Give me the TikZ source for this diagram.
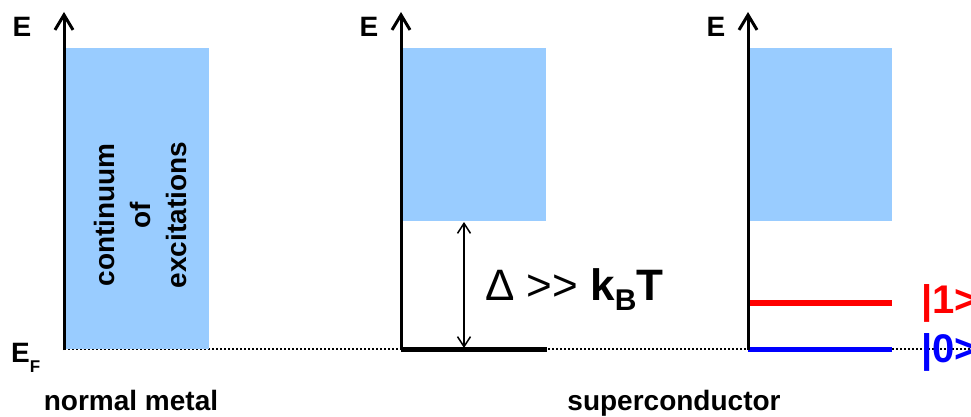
\documentclass[tikz,border=0pt]{standalone}
\usepackage{fontspec}
\setmainfont{Liberation Sans}
\usetikzlibrary{arrows.meta,positioning}
\definecolor{bandblue}{RGB}{153,204,255}

\begin{document}
\begin{tikzpicture}[
  x=1pt,y=-1pt,
  font=\bfseries\fontsize{28}{34}\selectfont,
  axis/.style={line width=3pt,-{Straight Barb[length=15pt,width=18pt]}},
  band/.style={fill=bandblue,draw=none,inner sep=0pt,anchor=north west,minimum width=143pt},
  level/.style={line width=5pt},
  gap/.style={line width=1.5pt,{Straight Barb[length=10pt,width=13pt]}-{Straight Barb[length=10pt,width=13pt]}},
  fermi/.style={line width=1.8pt,dash pattern=on 1.6pt off 2.4pt},
  ket/.style={font=\bfseries\fontsize{40}{40}\selectfont,anchor=base west,inner sep=0pt},
  caption/.style={anchor=base,inner sep=0pt},
]
\useasboundingbox (0,0) rectangle (971,417);
\clip (0,0) rectangle (971,417);

% axes origins and tips
\coordinate (o1) at (64,350);  \coordinate (t1) at (64,12);
\coordinate (o2) at (401,350); \coordinate (t2) at (401,12);
\coordinate (o3) at (748,350); \coordinate (t3) at (748,12);
\coordinate (fend) at (971,349);

% Fermi level
\draw[fermi] (o1) ++(0,-1) -- (fend);

% excitation bands
\node[band,minimum height=301pt] (band1) at (66,48) {};
\node[band,minimum height=173pt] (band2) at (403,48) {};
\node[band,minimum height=173pt] (band3) at (749,48) {};
\node[rotate=90,align=center,font=\bfseries\fontsize{28}{36}\selectfont] (cont) at (140,215)
  {continuum\\of\\excitations};

% levels
\coordinate (l2) at (547,349.5);
\coordinate (q0a) at (748,349.5); \coordinate (q0b) at (892,349.5);
\coordinate (q1a) at (748,303);   \coordinate (q1b) at (892,303);
\draw[level] (o2) ++(0,-0.5) -- (l2);
\draw[level,blue] (q0a) -- (q0b);
\draw[level,red,line width=6pt] (q1a) -- (q1b);

% axes
\draw[axis] (o1) -- (t1);
\draw[axis] (o2) -- (t2);
\draw[axis] (o3) -- (t3);
\node (e1) at (22,27) {E};
\node (e2) at (369,27) {E};
\node (e3) at (716,27) {E};
\node[anchor=base west,inner sep=0pt] (ef) at (11,362)
  {E\raisebox{-10pt}{\fontsize{17}{17}\selectfont F}};

% gap
\coordinate (g1) at (464,222);
\coordinate (g2) at (464,348);
\draw[gap] (g1) -- (g2);
\node[anchor=base west,inner sep=0pt,font=\bfseries\fontsize{44}{44}\selectfont] (gaplbl) at (485,300)
  {{\mdseries Δ >{}>} k\raisebox{-10pt}{\fontsize{30}{30}\selectfont B}T};

% qubit states
\node[ket,red] (ket1) at (921,313) {|1>};
\node[ket,blue] (ket0) at (921,362) {|0>};

% captions
\node[caption] (nm) at (131,410) {normal metal};
\node[caption] (sc) at (674,410) {superconductor};
\end{tikzpicture}
\end{document}
